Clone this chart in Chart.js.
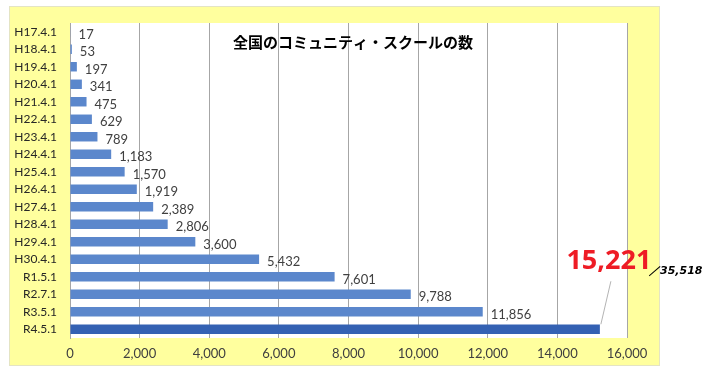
<!DOCTYPE html>
<html>
<head>
<meta charset="utf-8">
<script src="https://cdn.jsdelivr.net/npm/chart.js@4"></script>
<style>
  html, body { margin: 0; padding: 0; background: #fff; }
  #wrap { width: 720px; height: 368px; }
</style>
</head>
<body>
<div id="wrap"><canvas id="barChart" width="720" height="368"></canvas></div>
<script>
// データ
const categories = ["H17.4.1", "H18.4.1", "H19.4.1", "H20.4.1", "H21.4.1", "H22.4.1", "H23.4.1",
    "H24.4.1", "H25.4.1", "H26.4.1", "H27.4.1", "H28.4.1", "H29.4.1", "H30.4.1",
    "R1.5.1", "R2.7.1", "R3.5.1", "R4.5.1"];
const schoolCounts = [17, 53, 197, 341, 475, 629, 789, 1183, 1570, 1919, 2389, 2806, 3600, 5432,
    7601, 9788, 11856, 15221];
const totalSchools = 35518;
const xTicks = [0, 2000, 4000, 6000, 8000, 10000, 12000, 14000, 16000];
const chartTitle = "全国のコミュニティ・スクールの数";

const barColors = schoolCounts.map((v, i) => i === schoolCounts.length - 1 ? "#3461b3" : "#5b87cc");
const fmt = v => v.toLocaleString("en-US");

// 背景（黄色の枠と白いプロット領域）
const backgroundPlugin = {
    id: "bg",
    beforeDraw(chart) {
        const ctx = chart.ctx;
        const a = chart.chartArea;
        ctx.save();
        ctx.fillStyle = "#ffff9e";
        ctx.fillRect(9, 6, 651, 360);
        ctx.strokeStyle = "#e4e4c4";
        ctx.lineWidth = 1;
        ctx.strokeRect(9.5, 6.5, 650, 359);
        ctx.fillStyle = "#ffffff";
        ctx.fillRect(a.left, a.top, a.right - a.left, a.bottom - a.top);
        ctx.restore();
    }
};

// タイトルとデータラベル
const labelPlugin = {
    id: "labels",
    afterDatasetsDraw(chart) {
        const ctx = chart.ctx;
        const meta = chart.getDatasetMeta(0);
        ctx.save();
        ctx.fillStyle = "#000";
        ctx.font = "bold 15px 'Noto Sans CJK JP'";
        ctx.textAlign = "center";
        ctx.textBaseline = "middle";
        ctx.fillText(chartTitle, 353, 42);

        ctx.textAlign = "left";
        ctx.font = "13px Lato";
        ctx.fillStyle = "#404040";
        const last = schoolCounts.length - 1;
        meta.data.forEach((bar, i) => {
            if (i === last) return;
            ctx.fillText(fmt(schoolCounts[i]), bar.x + 8, bar.y + 3);
        });

        // 最新値の強調
        const lb = meta.data[last];
        ctx.strokeStyle = "#b4b4b4";
        ctx.lineWidth = 1;
        ctx.beginPath();
        ctx.moveTo(lb.x + 11, lb.y - 48);
        ctx.lineTo(lb.x + 1, lb.y - 5);
        ctx.stroke();

        ctx.fillStyle = "#ee1c25";
        ctx.font = "bold 27px 'Open Sans'";
        ctx.textAlign = "center";
        ctx.fillText(fmt(schoolCounts[last]), lb.x + 9, lb.y - 68);

        ctx.fillStyle = "#000";
        ctx.font = "italic bold 11px 'DejaVu Sans'";
        ctx.textAlign = "left";
        ctx.fillText("／" + fmt(totalSchools), 649, lb.y - 58);
        ctx.restore();
    }
};

const barCtx = document.getElementById("barChart").getContext("2d");
const barChart = new Chart(barCtx, {
    type: "bar",
    data: {
        labels: categories,
        datasets: [
            {
                data: schoolCounts,
                backgroundColor: barColors,
                borderWidth: 0,
                categoryPercentage: 1,
                barPercentage: 0.54
            }
        ]
    },
    options: {
        indexAxis: "y",
        responsive: false,
        animation: false,
        layout: { padding: { left: 9, right: 93, top: 23, bottom: 0 } },
        plugins: {
            legend: { display: false },
            tooltip: { enabled: false }
        },
        scales: {
            x: {
                min: 0,
                max: 16000,
                afterBuildTicks: scale => { scale.ticks = xTicks.map(v => ({ value: v })); },
                afterFit: scale => { scale.height = 30; },
                grid: { color: "#a6a6a6", drawTicks: false },
                border: { display: false },
                ticks: {
                    color: "#404040",
                    font: { family: "Lato", size: 13 },
                    padding: 8,
                    callback: v => fmt(v)
                }
            },
            y: {
                afterFit: scale => { scale.width = 61; },
                grid: { display: false, drawTicks: false },
                border: { display: true, color: "#a6a6a6" },
                ticks: {
                    color: "#262626",
                    font: { family: "Lato", size: 12 },
                    padding: 13,
                    autoSkip: false
                }
            }
        }
    },
    plugins: [backgroundPlugin, labelPlugin]
});
</script>
</body>
</html>
